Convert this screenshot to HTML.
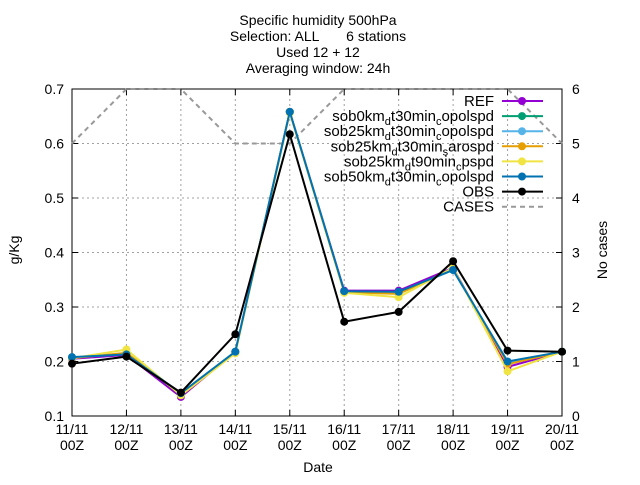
<!DOCTYPE html>
<html><head><meta charset="utf-8"><style>
body{margin:0;background:#fff}
svg{font-family:"Liberation Sans",sans-serif;font-size:14px}
</style></head><body>
<svg id="c" width="640" height="480">
<g text-anchor="middle" font-size="14">
<text x="318" y="25">Specific humidity 500hPa</text>
<text x="318" y="41" style="white-space:pre">Selection: ALL       6 stations</text>
<text x="318" y="57">Used 12 + 12</text>
<text x="318" y="73">Averaging window: 24h</text>
</g>
<g id="grid"></g>
<g id="axes"></g>
<g id="series"></g>
<g id="legend"></g>
<text x="318" y="472" text-anchor="middle">Date</text>
<text transform="translate(19,250) rotate(-90)" text-anchor="middle">g/Kg</text>
<text transform="translate(607,250) rotate(-90)" text-anchor="middle">No cases</text>
</svg>
<script>
const categories=["11/11","12/11","13/11","14/11","15/11","16/11","17/11","18/11","19/11","20/11"];
const yTicks=[0.1,0.2,0.3,0.4,0.5,0.6,0.7];
const y2Ticks=[0,1,2,3,4,5,6];
const seriesNames=["REF","sob0km_dt30min_copolspd","sob25km_dt30min_copolspd","sob25km_dt30min_sarospd","sob25km_dt90min_cpspd","sob50km_dt30min_copolspd","OBS"];
const seriesColors=["#9400d3","#009e73","#56b4e9","#e69f00","#f0e442","#0072b2","#000000"];
const refVals=[0.205,0.212,0.135,0.218,0.658,0.330,0.330,0.372,0.190,0.218];
const sob0Vals=[0.207,0.214,0.140,0.218,0.658,0.328,0.327,0.368,0.198,0.218];
const sob25Vals=[0.207,0.215,0.141,0.218,0.658,0.328,0.326,0.368,0.198,0.218];
const sob25sVals=[0.206,0.216,0.140,0.217,0.658,0.327,0.324,0.370,0.195,0.218];
const sob25_90Vals=[0.206,0.222,0.138,0.215,0.656,0.326,0.318,0.372,0.182,0.218];
const sob50Vals=[0.208,0.213,0.142,0.218,0.658,0.329,0.328,0.368,0.200,0.218];
const obsVals=[0.196,0.209,0.143,0.250,0.617,0.273,0.291,0.384,0.220,0.218];
const casesVals=[5,6,6,5,5,6,6,6,6,5];
const allVals=[refVals,sob0Vals,sob25Vals,sob25sVals,sob25_90Vals,sob50Vals,obsVals];
const L=72,R=562,T=89,B=416;
const x=i=>L+i*(R-L)/(categories.length-1);
const y=v=>B-(v-0.1)/0.6*(B-T);
const y2=v=>B-v/6*(B-T);
const NS="http://www.w3.org/2000/svg";
function mk(p,t,a){const e=document.createElementNS(NS,t);for(const k in a)e.setAttribute(k,a[k]);p.appendChild(e);return e;}
const grid=document.getElementById('grid'),axes=document.getElementById('axes'),ser=document.getElementById('series'),leg=document.getElementById('legend');
categories.forEach((c,i)=>{
 if(i>0&&i<categories.length-1){const g=mk(grid,'line',{x1:x(i),x2:x(i),y1:T,y2:B,stroke:'#a0a0a0','stroke-dasharray':'2,3'});
 
 }
 mk(axes,'line',{x1:x(i),x2:x(i),y1:B,y2:B-6,stroke:'#000'});
 mk(axes,'line',{x1:x(i),x2:x(i),y1:T,y2:T+6,stroke:'#000'});
 const t=mk(axes,'text',{x:x(i),y:B+18,'text-anchor':'middle'});t.textContent=c;
 
 
 const t2=mk(axes,'text',{x:x(i),y:B+34,'text-anchor':'middle'});t2.textContent='00Z';
 
 
});
yTicks.forEach(v=>{
 if(v>0.1&&v<0.7){const g=mk(grid,'line',{x1:L,x2:R,y1:y(v),y2:y(v),stroke:'#a0a0a0','stroke-dasharray':'2,3'});
 
 }
 mk(axes,'line',{x1:L,x2:L+6,y1:y(v),y2:y(v),stroke:'#000'});
 const t=mk(axes,'text',{x:L-8,y:y(v)+5,'text-anchor':'end'});t.textContent=v.toFixed(1);
 
 
});
y2Ticks.forEach(v=>{
 mk(axes,'line',{x1:R-6,x2:R,y1:y2(v),y2:y2(v),stroke:'#000'});
 const t=mk(axes,'text',{x:R+10,y:y2(v)+5});t.textContent=v;
 
 
});
mk(axes,'rect',{x:L,y:T,width:R-L,height:B-T,fill:'none',stroke:'#000'});
const cp=mk(ser,'polyline',{points:casesVals.map((v,i)=>x(i)+','+y2(v)).join(' '),fill:'none',stroke:'#999','stroke-width':2,'stroke-dasharray':'5,4'});


allVals.forEach((vals,s)=>{
 const pl=mk(ser,'polyline',{points:vals.map((v,i)=>x(i)+','+y(v)).join(' '),fill:'none',stroke:seriesColors[s],'stroke-width':2});
 
 
 vals.forEach((v,i)=>{const p=mk(ser,'circle',{cx:x(i),cy:y(v),r:4,fill:seriesColors[s]});
 
 });
});
const labs=["REF","sob0km<tspan font-size='11' dy='4'>d</tspan><tspan dy='-4'>t30min</tspan><tspan font-size='11' dy='4'>c</tspan><tspan dy='-4'>opolspd</tspan>",
"sob25km<tspan font-size='11' dy='4'>d</tspan><tspan dy='-4'>t30min</tspan><tspan font-size='11' dy='4'>c</tspan><tspan dy='-4'>opolspd</tspan>",
"sob25km<tspan font-size='11' dy='4'>d</tspan><tspan dy='-4'>t30min</tspan><tspan font-size='11' dy='4'>s</tspan><tspan dy='-4'>arospd</tspan>",
"sob25km<tspan font-size='11' dy='4'>d</tspan><tspan dy='-4'>t90min</tspan><tspan font-size='11' dy='4'>c</tspan><tspan dy='-4'>pspd</tspan>",
"sob50km<tspan font-size='11' dy='4'>d</tspan><tspan dy='-4'>t30min</tspan><tspan font-size='11' dy='4'>c</tspan><tspan dy='-4'>opolspd</tspan>","OBS","CASES"];
labs.forEach((l,k)=>{
 const yy=101+k*15.1;
 const t=mk(leg,'text',{x:494,y:yy+5,'text-anchor':'end','font-size':15});t.innerHTML=l;
 
 
 if(k<7){mk(leg,'line',{x1:502,x2:543,y1:yy,y2:yy,stroke:seriesColors[k],'stroke-width':2});
  mk(leg,'circle',{cx:522,cy:yy,r:4,fill:seriesColors[k]});}
 else mk(leg,'line',{x1:502,x2:543,y1:yy,y2:yy,stroke:'#999','stroke-width':2,'stroke-dasharray':'5,4'});
});
</script>
</body></html>
